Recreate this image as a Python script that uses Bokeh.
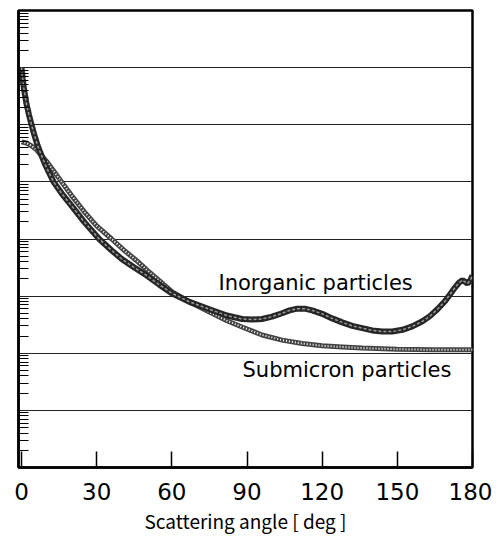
from bokeh.plotting import figure
from bokeh.models import Range1d, FixedTicker, Label
from bokeh.embed import file_html
from bokeh.resources import INLINE

# Scattering angle (deg) and log10 of scattered intensity
inorg_angle = [0, 0.5, 1, 2, 3, 4, 5, 6.4, 8, 9.5, 11, 12.8, 16, 20, 25, 31, 36, 40, 45,
               50, 55, 60, 67, 75, 82, 88, 92, 96, 100, 104, 107, 110, 113, 116, 120,
               124, 128, 132, 136, 140, 144, 148, 152, 156, 160, 163, 166, 169, 171,
               173, 174.5, 176, 177, 178, 179, 180]
inorg_log = [7.0, 6.8, 6.62, 6.36, 6.17, 6.0, 5.84, 5.64, 5.46, 5.3, 5.16, 5.0, 4.8, 4.58,
             4.3, 4.0, 3.8, 3.65, 3.5, 3.36, 3.2, 3.05, 2.9, 2.77, 2.66, 2.6, 2.59, 2.6,
             2.64, 2.7, 2.75, 2.78, 2.78, 2.75, 2.69, 2.61, 2.54, 2.48, 2.44, 2.4, 2.38,
             2.38, 2.41, 2.47, 2.56, 2.65, 2.77, 2.91, 3.03, 3.15, 3.23, 3.28, 3.25, 3.22,
             3.27, 3.36]

sub_angle = [0, 2, 4, 6, 8, 10, 13, 16, 20, 25, 30, 36, 41, 46, 50, 55, 60, 67, 75, 82,
             88, 96, 104, 112, 120, 128, 136, 150, 165, 180]
sub_log = [5.7, 5.68, 5.63, 5.56, 5.46, 5.36, 5.18, 5.0, 4.76, 4.48, 4.23, 4.0, 3.8, 3.62,
           3.46, 3.27, 3.08, 2.9, 2.72, 2.57, 2.46, 2.32, 2.23, 2.17, 2.13, 2.11, 2.09,
           2.07, 2.06, 2.06]

x_ticks = [0, 30, 60, 90, 120, 150, 180]
decades = [10.0 ** k for k in range(0, 9)]
minor = [m * 10.0 ** k for k in range(0, 8) for m in range(2, 10)]

FONT = "DejaVu Sans"
TITLE_FONT = "Noto Sans CJK JP"

inorg_y = [10 ** v for v in inorg_log]
sub_y = [10 ** v for v in sub_log]

p = figure(width=492, height=536, output_backend="svg", toolbar_location=None,
           x_range=Range1d(-1.2, 180), y_range=Range1d(1, 1e8), y_axis_type="log",
           min_border_left=18, min_border_top=10, min_border_right=20, min_border_bottom=0)

p.outline_line_color = "black"
p.outline_line_width = 2.5
p.background_fill_color = "white"
p.border_fill_color = "white"

# x axis
p.xaxis.ticker = FixedTicker(ticks=x_ticks)
p.xaxis.major_tick_in = 16
p.xaxis.major_tick_out = 0
p.xaxis.minor_tick_in = 0
p.xaxis.minor_tick_out = 0
p.xaxis.axis_line_width = 2.5
p.xaxis.major_tick_line_width = 1.5
p.xaxis.major_label_text_font = FONT
p.xaxis.major_label_text_font_size = "23px"
p.xaxis.major_label_text_color = "black"
p.xaxis.major_label_standoff = 15
p.xaxis.axis_label = "Scattering angle [ deg ]"
p.xaxis.axis_label_text_font = TITLE_FONT
p.xaxis.axis_label_text_font_size = "19px"
p.xaxis.axis_label_text_font_style = "normal"
p.xaxis.axis_label_text_color = "black"
p.xaxis.axis_label_standoff = 4
p.xgrid.visible = False

# y axis (log, no labels)
p.yaxis.ticker = FixedTicker(ticks=decades, minor_ticks=minor)
p.yaxis.major_tick_in = 0
p.yaxis.major_tick_out = 0
p.yaxis.minor_tick_in = 10
p.yaxis.minor_tick_out = 0
p.yaxis.minor_tick_line_width = 1.2
p.yaxis.axis_line_width = 2.5
p.yaxis.major_label_text_font_size = "1px"
p.yaxis.major_label_text_alpha = 0
p.yaxis.major_label_standoff = 0
p.ygrid.ticker = FixedTicker(ticks=decades)
p.ygrid.grid_line_color = "#222222"
p.ygrid.grid_line_width = 1.2

# Submicron particles: chain-like curve
p.line(sub_angle, sub_y, line_color="#444444", line_width=5)
p.line(sub_angle, sub_y, line_color="white", line_width=2, line_dash="1 2")

# Inorganic particles: thick dark curve with lighter core
p.line(inorg_angle, inorg_y, line_color="#262626", line_width=6)
p.line(inorg_angle, inorg_y, line_color="#9a9a9a", line_width=1.5, line_dash="3 2")

p.add_layout(Label(x=78.6, y=10 ** 3.23, text="Inorganic particles", text_font=FONT,
                   text_font_size="21px", text_color="black", text_baseline="middle"))
p.add_layout(Label(x=88.2, y=10 ** 1.70, text="Submicron particles", text_font=FONT,
                   text_font_size="21px", text_color="black", text_baseline="middle"))

open("out.html", "w").write(file_html(p, INLINE))
